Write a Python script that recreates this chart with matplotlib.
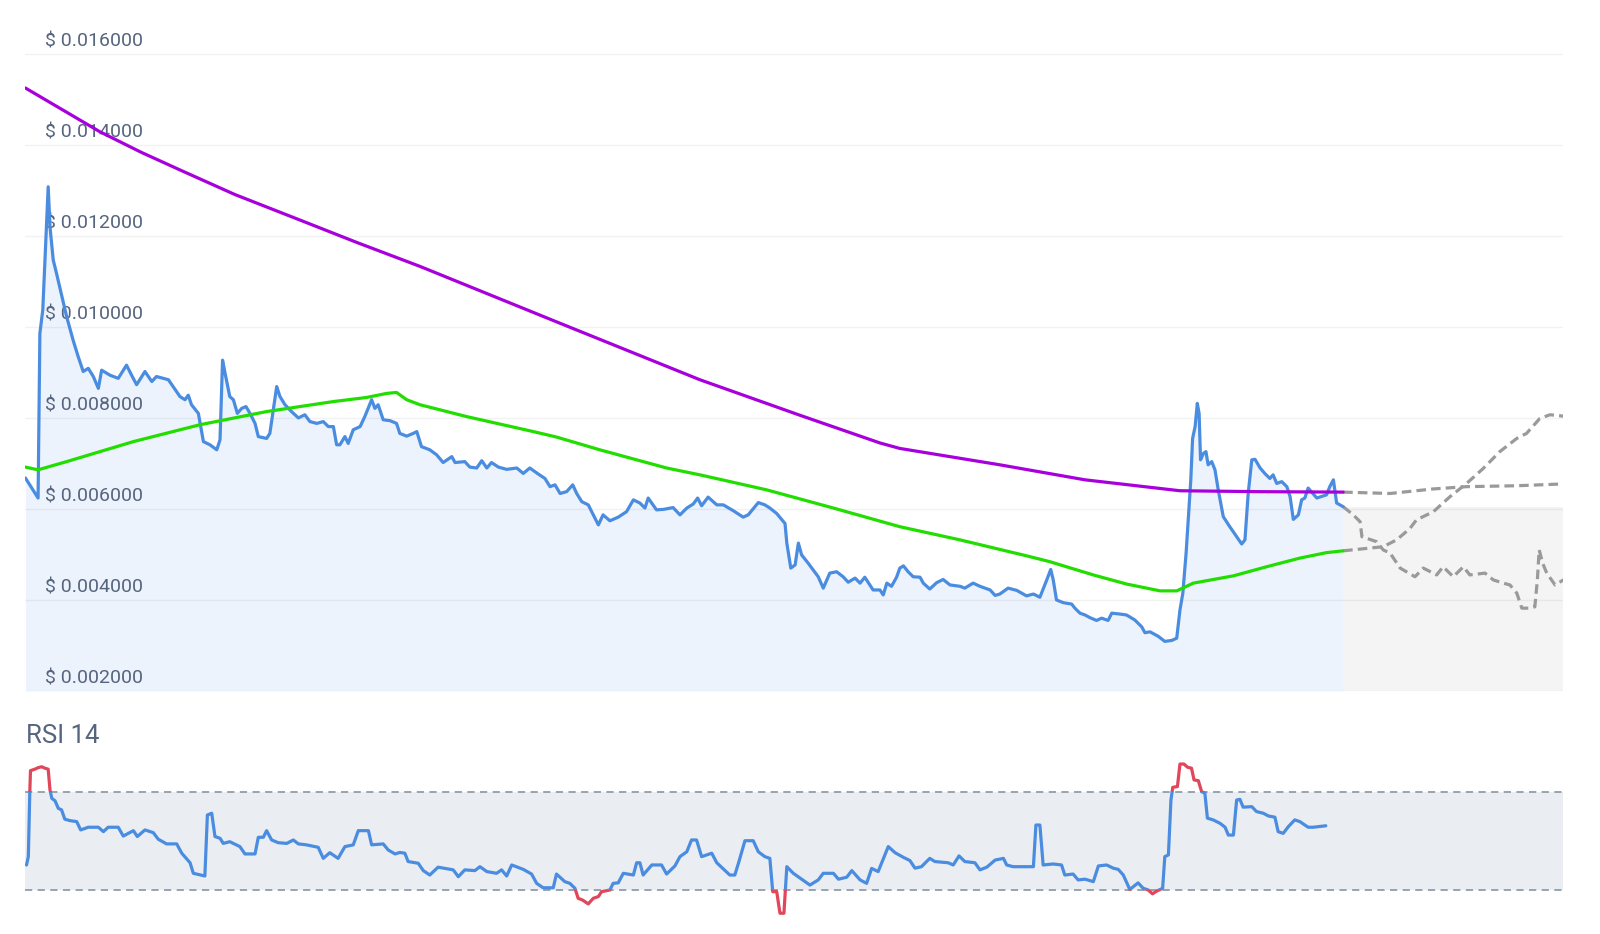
import numpy as np
import matplotlib
matplotlib.use('Agg')
import matplotlib.pyplot as plt
import matplotlib.transforms as mtransforms
from matplotlib.patches import Rectangle

plt.rcParams['font.family'] = ['Roboto', 'DejaVu Sans']

# price history (day, USD)
price_days = [0, 3.5, 4.0, 4.8, 6.3, 6.8, 7.7, 8.6, 10.0, 11.4, 13.2, 14.6, 16.0, 17.4, 18.8, 20.2,
              21.1, 23.4, 25.7, 28.0, 29.4, 30.8, 33.1, 35.0, 36.3, 38.2, 39.6, 40.9, 42.8, 44.2,
              45.1, 46.0, 47.9, 49.3, 51.1, 53.0, 53.9, 54.6, 55.3, 56.6, 57.6, 58.7, 59.9, 61.1,
              62.2, 63.6, 64.5, 66.8, 67.7, 69.6, 70.5, 71.9, 73.7, 75.6, 77.4, 78.8, 80.7, 82.5,
              83.9, 85.3, 86.2, 87.1, 88.5, 89.4, 90.8, 92.7, 94.0, 95.9, 96.8, 97.7, 99.1, 101.0,
              102.8, 103.7, 105.6, 107.4, 108.4, 109.7, 112.0, 113.9, 115.7, 118.1, 119.0, 121.7,
              123.1, 125.0, 126.4, 127.8, 129.1, 131.0, 133.3, 136.1, 137.9, 139.7, 142.0, 143.9,
              145.3, 146.7, 148.1, 149.9, 151.6, 152.7, 154.1, 155.9, 157.3, 158.7, 160.0, 161.9,
              164.2, 166.5, 168.4, 170.2, 171.6, 172.5, 174.8, 176.7, 179.4, 181.3, 183.2, 185.0,
              186.2, 187.3, 189.1, 191.5, 193.3, 196.1, 198.8, 200.2, 203.0, 204.8, 206.2, 208.1,
              210.4, 210.9, 212.0, 213.2, 214.1, 215.0, 216.8, 218.2, 219.6, 221.0, 222.8, 224.7,
              226.5, 227.9, 229.8, 231.2, 232.5, 234.8, 236.7, 237.6, 238.6, 239.9, 241.3, 242.2,
              243.2, 244.5, 245.9, 247.8, 248.7, 250.5, 252.4, 254.2, 256.1, 258.9, 260.2, 262.5,
              264.4, 267.2, 268.6, 269.9, 272.2, 274.6, 277.3, 279.2, 281.0, 282.9, 284.0, 284.7,
              285.6, 287.5, 289.8, 290.7, 292.1, 293.5, 294.9, 296.7, 298.1, 299.9, 300.9, 303.2,
              305.0, 307.3, 309.2, 310.1, 311.5, 313.8, 315.6, 317.5, 318.9, 319.8, 320.6, 321.5,
              322.1, 322.8, 323.3, 324.0, 324.6, 325.1, 325.5, 326.3, 327.0, 327.6, 328.6, 329.5,
              330.4, 331.8, 333.6, 335.5, 336.9, 337.8, 338.7, 339.7, 340.6, 342.0, 343.3, 344.7,
              345.6, 346.6, 348.0, 349.4, 350.3, 351.2, 352.6, 353.5, 354.4, 355.3, 357.7, 360.4,
              361.3, 362.3, 363.2, 365.0]
price = [0.00668, 0.00624, 0.00986, 0.01037, 0.01308, 0.01220, 0.01147, 0.01118, 0.01070, 0.01023,
         0.00971, 0.00935, 0.00902, 0.00909, 0.00891, 0.00865, 0.00905, 0.00894, 0.00887, 0.00916,
         0.00894, 0.00873, 0.00902, 0.00880, 0.00891, 0.00887, 0.00884, 0.00869, 0.00847, 0.00840,
         0.00850, 0.00829, 0.00810, 0.00748, 0.00741, 0.00730, 0.00752, 0.00927, 0.00898, 0.00847,
         0.00840, 0.00810, 0.00821, 0.00825, 0.00810, 0.00788, 0.00759, 0.00755, 0.00766, 0.00869,
         0.00847, 0.00829, 0.00814, 0.00800, 0.00807, 0.00792, 0.00788, 0.00792, 0.00781, 0.00781,
         0.00741, 0.00741, 0.00759, 0.00744, 0.00774, 0.00781, 0.00803, 0.00840, 0.00821, 0.00829,
         0.00796, 0.00794, 0.00788, 0.00766, 0.00760, 0.00766, 0.00770, 0.00737, 0.00730, 0.00719,
         0.00702, 0.00715, 0.00702, 0.00704, 0.00692, 0.00690, 0.00706, 0.00690, 0.00702, 0.00692,
         0.00687, 0.00690, 0.00678, 0.00690, 0.00677, 0.00667, 0.00649, 0.00653, 0.00634, 0.00638,
         0.00653, 0.00634, 0.00616, 0.00609, 0.00587, 0.00565, 0.00587, 0.00574, 0.00582, 0.00594,
         0.00620, 0.00613, 0.00602, 0.00624, 0.00598, 0.00599, 0.00603, 0.00587, 0.00602, 0.00611,
         0.00624, 0.00607, 0.00626, 0.00609, 0.00609, 0.00596, 0.00582, 0.00587, 0.00614, 0.00609,
         0.00602, 0.00590, 0.00568, 0.00525, 0.00470, 0.00477, 0.00525, 0.00499, 0.00481, 0.00466,
         0.00451, 0.00426, 0.00459, 0.00462, 0.00451, 0.00439, 0.00448, 0.00437, 0.00450, 0.00422,
         0.00422, 0.00411, 0.00437, 0.00430, 0.00450, 0.00470, 0.00475, 0.00462, 0.00451, 0.00450,
         0.00437, 0.00424, 0.00438, 0.00445, 0.00433, 0.00430, 0.00426, 0.00437, 0.00430, 0.00422,
         0.00410, 0.00413, 0.00426, 0.00421, 0.00409, 0.00413, 0.00406, 0.00444, 0.00467, 0.00444,
         0.00400, 0.00394, 0.00391, 0.00382, 0.00371, 0.00367, 0.00361, 0.00355, 0.00360, 0.00355,
         0.00371, 0.00369, 0.00367, 0.00356, 0.00341, 0.00328, 0.00330, 0.00320, 0.00309, 0.00311,
         0.00316, 0.00378, 0.00415, 0.00503, 0.00576, 0.00664, 0.00755, 0.00781, 0.00832, 0.00810,
         0.00708, 0.00722, 0.00726, 0.00697, 0.00704, 0.00686, 0.00642, 0.00583, 0.00561, 0.00539,
         0.00523, 0.00532, 0.00634, 0.00708, 0.00709, 0.00690, 0.00678, 0.00667, 0.00675, 0.00656,
         0.00660, 0.00649, 0.00627, 0.00577, 0.00587, 0.00620, 0.00624, 0.00646, 0.00624, 0.00631,
         0.00649, 0.00664, 0.00613, 0.00605]

# short moving average (green)
sma_days = [0, 3.5, 11.4, 29.9, 48.3, 66.8, 85.3, 94.5, 100.1, 102.8, 105.6, 109.3, 122.2, 140.7,
            147.1, 159.1, 177.6, 186.8, 205.3, 223.8, 242.2, 258.9, 277.3, 283.8, 295.8, 305.0,
            314.3, 318.9, 323.5, 334.6, 343.8, 353.0, 360.4, 365.0]
sma_short = [0.00692, 0.00686, 0.00704, 0.00748, 0.00785, 0.00814, 0.00836, 0.00845, 0.00854,
             0.00856, 0.00840, 0.00829, 0.00803, 0.00770, 0.00758, 0.00730, 0.00690, 0.00675,
             0.00642, 0.00602, 0.00561, 0.00532, 0.00497, 0.00484, 0.00455, 0.00435, 0.00420,
             0.00420, 0.00437, 0.00453, 0.00473, 0.00492, 0.00504, 0.00508]

# long moving average (purple)
lma_days = [0, 20.6, 32.0, 42.8, 58.0, 76.0, 92.0, 109.3, 148.1, 186.8, 214.5, 236.7, 242.2,
            269.9, 293.5, 319.8, 342.0, 365.0]
sma_long = [0.01525, 0.01429, 0.01384, 0.01345, 0.01291, 0.01235, 0.01185, 0.01133, 0.01008,
            0.00884, 0.00806, 0.00745, 0.00733, 0.00697, 0.00664, 0.00640, 0.00638, 0.00637]

# forecasts (gray dashed)
fc_long_days = [365.0, 378.0, 390.0, 399.2, 413.1, 426.0]
fc_long = [0.00637, 0.00634, 0.00644, 0.00649, 0.00651, 0.00655]
fc_short_days = [365.0, 376.1, 379.8, 383.5, 385.3, 390.0, 394.6, 399.2, 403.8, 408.4, 413.1,
                 415.8, 419.5, 422.3, 426.0]
fc_short = [0.00508, 0.00517, 0.00532, 0.00557, 0.00576, 0.00594, 0.00627, 0.00656, 0.00689,
            0.00726, 0.00755, 0.00766, 0.00799, 0.00807, 0.00804]
fc_price_days = [365.0, 367.8, 369.7, 370.2, 374.3, 376.1, 378.0, 380.8, 384.9, 387.2, 390.9,
                 392.7, 395.5, 398.3, 400.1, 404.3, 406.6, 409.4, 411.2, 413.1, 414.5, 416.8,
                 418.1, 418.8, 419.3, 420.3, 421.4, 423.7, 426.0]
fc_price = [0.00605, 0.00587, 0.00572, 0.00539, 0.00528, 0.00510, 0.00503, 0.00470, 0.00451,
            0.00470, 0.00455, 0.00473, 0.00451, 0.00473, 0.00455, 0.00459, 0.00444, 0.00437,
            0.00433, 0.00415, 0.00382, 0.00382, 0.00385, 0.00444, 0.00510, 0.00480, 0.00459,
            0.00433, 0.00444]

# RSI 14
rsi_days = [0.3, 0.8, 1.2, 1.4, 2.6, 3.5, 4.5, 5.4, 6.3, 6.8, 7.3, 8.2, 9.1, 10.0, 10.9, 12.3,
            14.2, 15.3, 17.4, 20.2, 21.6, 22.9, 25.7, 27.1, 29.9, 31.0, 33.1, 35.4, 36.8, 39.1,
            41.9, 43.3, 45.6, 46.5, 49.7, 50.4, 51.6, 52.5, 53.9, 54.8, 56.6, 59.4, 60.8, 63.6,
            64.5, 65.9, 66.8, 68.2, 70.0, 72.4, 74.2, 75.6, 77.9, 81.1, 82.5, 84.3, 86.6, 88.5,
            90.8, 92.2, 95.0, 95.9, 99.1, 100.5, 102.4, 103.7, 105.1, 106.0, 108.8, 110.2, 112.0,
            114.3, 118.5, 119.9, 121.7, 124.5, 125.9, 127.8, 130.5, 131.9, 133.3, 134.7, 137.9,
            140.2, 141.6, 143.4, 146.2, 147.1, 149.4, 150.8, 152.2, 153.1, 154.3, 155.9, 157.3,
            158.7, 159.6, 161.9, 162.8, 164.2, 165.6, 168.4, 169.3, 170.2, 171.1, 173.5, 176.2,
            177.6, 179.9, 181.3, 183.2, 184.5, 185.9, 187.3, 190.1, 191.5, 195.1, 196.5, 197.5,
            199.3, 201.6, 203.0, 204.8, 206.2, 207.0, 208.1, 209.0, 210.1, 210.9, 212.7, 215.0,
            217.3, 219.6, 221.0, 223.8, 225.2, 227.5, 228.9, 231.2, 233.0, 234.4, 236.2, 239.0,
            240.9, 243.2, 245.0, 246.4, 248.2, 250.5, 251.9, 255.6, 257.0, 258.6, 260.2, 263.0,
            264.4, 266.3, 268.6, 270.9, 271.8, 273.6, 279.2, 279.9, 281.0, 281.9, 284.7, 287.0,
            287.9, 290.2, 291.6, 293.5, 295.8, 297.2, 299.5, 301.3, 302.7, 304.1, 305.9, 308.2,
            309.6, 311.0, 312.2, 313.3, 315.0, 315.6, 316.6, 317.3, 317.8, 319.1, 319.8, 320.9,
            321.9, 323.0, 323.7, 324.9, 325.8, 326.7, 327.4, 329.0, 330.9, 332.3, 333.2, 334.6,
            335.5, 336.4, 337.3, 339.7, 341.0, 342.9, 344.3, 346.1, 347.0, 348.4, 349.8, 351.6,
            353.0, 355.3, 356.7, 360.2]
rsi = [40.2, 43.6, 69.5, 78.7, 79.3, 79.9, 80.3, 79.7, 79.3, 70.8, 67.4, 66.4, 63.3, 62.7, 58.9,
       58.3, 57.9, 54.5, 55.6, 55.6, 53.8, 55.6, 55.6, 52.0, 54.2, 51.8, 54.5, 53.4, 50.7, 48.8,
       48.8, 45.0, 41.1, 36.8, 35.7, 60.6, 61.3, 51.8, 51.1, 49.0, 49.7, 47.7, 44.7, 44.7, 51.5,
       51.5, 54.2, 50.4, 49.3, 49.0, 50.4, 48.8, 48.4, 47.4, 42.9, 45.2, 42.9, 47.7, 48.4, 54.2,
       54.2, 48.4, 48.8, 46.3, 44.7, 45.3, 45.0, 41.6, 40.9, 37.9, 36.1, 39.3, 38.2, 35.4, 38.2,
       37.9, 39.5, 37.5, 36.8, 38.2, 35.7, 40.2, 38.4, 36.5, 32.7, 30.9, 30.9, 36.5, 33.4, 32.7,
       30.7, 26.6, 25.9, 24.3, 26.6, 27.3, 29.3, 30.0, 32.7, 32.9, 36.8, 36.1, 41.1, 41.1, 36.1,
       40.2, 40.2, 36.5, 39.8, 43.6, 45.6, 50.4, 50.4, 43.6, 45.0, 41.1, 36.1, 36.1, 40.9, 50.1,
       50.1, 45.6, 43.6, 42.9, 29.3, 29.3, 20.5, 20.5, 39.5, 36.8, 34.4, 32.0, 34.1, 36.8, 36.8,
       34.4, 35.2, 37.9, 34.1, 32.7, 38.8, 37.5, 47.7, 45.2, 43.3, 42.0, 38.9, 39.5, 42.9, 41.6,
       41.1, 40.2, 43.9, 41.6, 41.1, 38.2, 39.3, 42.2, 42.9, 40.2, 39.5, 39.5, 56.5, 56.5, 40.2,
       40.6, 40.2, 36.1, 36.5, 34.1, 34.4, 33.4, 39.8, 40.2, 38.9, 38.4, 36.1, 30.2, 32.9, 30.7,
       30.0, 28.4, 29.5, 30.7, 43.6, 44.3, 66.7, 71.9, 72.2, 81.4, 81.4, 80.1, 79.7, 74.9, 74.6,
       70.1, 69.5, 59.3, 58.6, 57.2, 55.6, 52.4, 52.4, 66.7, 67.0, 63.8, 64.0, 62.0, 61.3, 60.2,
       59.7, 53.8, 53.1, 55.8, 58.6, 57.9, 55.6, 55.6, 56.2]

y_ticks = [0.002, 0.004, 0.006, 0.008, 0.010, 0.012, 0.014, 0.016]

BLUE = '#4A8CE0'
GREEN = '#22DD00'
PURPLE = '#A800DC'
GRAY = '#9A9A9A'
RED = '#E0475A'
TEXT = '#56657E'

x_end = fc_long_days[-1]

fig = plt.figure(figsize=(16, 9.34), dpi=100)
ax = fig.add_axes([0.0159, 0.2602, 0.9612, 0.7162])
ax2 = fig.add_axes([0.0159, 0.0078, 0.9612, 0.1915])

# ---- price panel ----
ax.fill_between(price_days, y_ticks[0], price, color='#EDF3FC', lw=0, zorder=1)
ax.fill_between([price_days[-1], x_end], y_ticks[0], price[-1], color='#F4F4F4', lw=0, zorder=1)
for v in y_ticks:
    ax.axhline(v, color='black', alpha=0.05, lw=1, zorder=2)

lbl_trans = mtransforms.offset_copy(ax.get_yaxis_transform(), fig=fig, y=7, units='dots')
for v in y_ticks:
    ax.text(0.0127, v, '\\$ %.6f' % v, transform=lbl_trans, fontsize=14, color=TEXT,
            va='baseline', ha='left', zorder=3)

line_kw = dict(lw=2.3, solid_joinstyle='round', solid_capstyle='round')
ax.plot(price_days, price, color=BLUE, zorder=5, **line_kw)
ax.plot(sma_days, sma_short, color=GREEN, zorder=6, **line_kw)
ax.plot(lma_days, sma_long, color=PURPLE, zorder=6, **line_kw)
dash = (0, (3, 1.6))
ax.plot(fc_long_days, fc_long, color=GRAY, lw=2.3, ls=dash, zorder=4)
ax.plot(fc_short_days, fc_short, color=GRAY, lw=2.3, ls=dash, zorder=4)
ax.plot(fc_price_days, fc_price, color=GRAY, lw=2.3, ls=dash, zorder=4)

ax.set_xlim(0, x_end)
ax.set_ylim(0.002, 0.0167)
ax.axis('off')

# ---- RSI panel ----
ax2.fill_between([0, x_end], 30, 70, color='#EAEEF2', lw=0, zorder=1)
for lvl in (30, 70):
    ax2.axhline(lvl, color='#8D9EAB', lw=1.3, ls=(0, (4, 3)), zorder=2)

mid = Rectangle((0, 30), x_end, 40, transform=ax2.transData)
hi = Rectangle((0, 70), x_end, 100, transform=ax2.transData)
lo = Rectangle((0, -100), x_end, 130, transform=ax2.transData)
line_mid, = ax2.plot(rsi_days, rsi, color=BLUE, zorder=3, **line_kw)
line_mid.set_clip_path(mid)
line_hi, = ax2.plot(rsi_days, rsi, color=RED, zorder=3, **line_kw)
line_hi.set_clip_path(hi)
line_lo, = ax2.plot(rsi_days, rsi, color=RED, zorder=3, **line_kw)
line_lo.set_clip_path(lo)

ax2.set_xlim(0, x_end)
ax2.set_ylim(15, 88)
ax2.axis('off')

fig.text(0.0163, 0.2048, 'RSI 14', fontsize=18.5, color=TEXT, va='baseline', ha='left')

fig.savefig('out.png', dpi=100)
